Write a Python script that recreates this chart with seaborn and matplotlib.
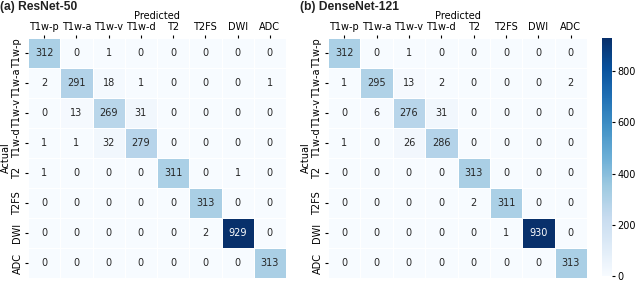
import numpy as np
import matplotlib
matplotlib.use('Agg')
import matplotlib.pyplot as plt
import seaborn as sns

labels = ['T1w-p', 'T1w-a', 'T1w-v', 'T1w-d', 'T2', 'T2FS', 'DWI', 'ADC']

resnet_cm = [
    [312, 0, 1, 0, 0, 0, 0, 0],
    [2, 291, 18, 1, 0, 0, 0, 1],
    [0, 13, 269, 31, 0, 0, 0, 0],
    [1, 1, 32, 279, 0, 0, 0, 0],
    [1, 0, 0, 0, 311, 0, 1, 0],
    [0, 0, 0, 0, 0, 313, 0, 0],
    [0, 0, 0, 0, 0, 2, 929, 0],
    [0, 0, 0, 0, 0, 0, 0, 313],
]

densenet_cm = [
    [312, 0, 1, 0, 0, 0, 0, 0],
    [1, 295, 13, 2, 0, 0, 0, 2],
    [0, 6, 276, 31, 0, 0, 0, 0],
    [1, 0, 26, 286, 0, 0, 0, 0],
    [0, 0, 0, 0, 313, 0, 0, 0],
    [0, 0, 0, 0, 2, 311, 0, 0],
    [0, 0, 0, 0, 0, 1, 930, 0],
    [0, 0, 0, 0, 0, 0, 0, 313],
]

titles = ['(a) ResNet-50', '(b) DenseNet-121']

W, H = 640, 283
fig = plt.figure(figsize=(W / 100, H / 100), dpi=100)

def box(x0, y0, x1, y1):
    return [x0 / W, 1 - y1 / H, (x1 - x0) / W, (y1 - y0) / H]

ax1 = fig.add_axes(box(28, 38, 286, 278))
ax2 = fig.add_axes(box(328, 38, 587, 278))
cax = fig.add_axes(box(602, 38, 612, 276))

vmax = max(np.max(resnet_cm), np.max(densenet_cm))

for i, (ax, cm) in enumerate(zip([ax1, ax2], [resnet_cm, densenet_cm])):
    sns.heatmap(np.array(cm), ax=ax, annot=True, fmt='d', cmap='Blues',
                vmin=0, vmax=vmax, linewidths=0.5, linecolor='white',
                xticklabels=labels, yticklabels=labels,
                cbar=(i == 1), cbar_ax=cax if i == 1 else None,
                annot_kws={'fontsize': 7})
    ax.xaxis.tick_top()
    ax.xaxis.set_label_position('top')
    ax.set_xlabel('Predicted', fontsize=7, labelpad=2.5)
    ax.set_ylabel('Actual', fontsize=7, labelpad=1)
    ax.tick_params(labelsize=7, length=2.5, pad=1.5)
    ax.set_xticklabels(labels, rotation=0)
    ax.set_yticklabels(labels, rotation=90, va='center')

cax.tick_params(labelsize=7, length=2.5, pad=1.5)
cax.set_yticks([0, 200, 400, 600, 800])

fig.text(0 / W, 1 - 7 / H, titles[0], fontsize=8.7, family='Liberation Sans',
         fontweight='bold', va='center', ha='left', color='#222222')
fig.text(300 / W, 1 - 7 / H, titles[1], fontsize=8.7, family='Liberation Sans',
         fontweight='bold', va='center', ha='left', color='#222222')

fig.savefig('out.png', dpi=100)
